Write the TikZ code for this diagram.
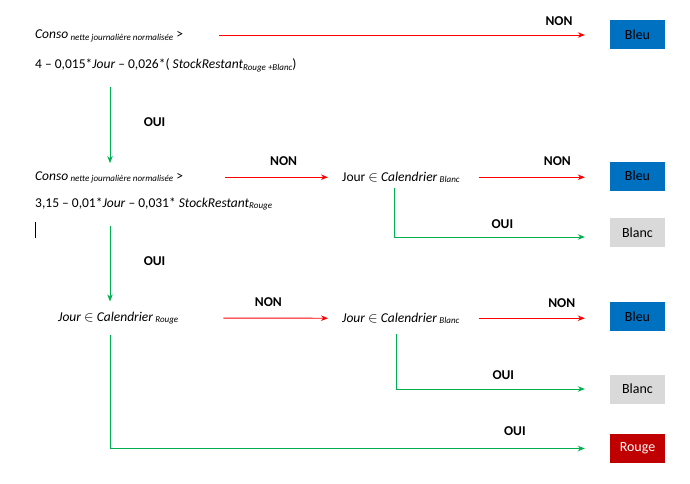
\documentclass[tikz,border=0pt]{standalone}
\usepackage{fontspec}
\setmainfont{Carlito}
\usepackage{tikz}
\usetikzlibrary{calc, arrows.meta}
\tikzset{>={Stealth[length=7pt, width=5.5pt]}}
\definecolor{bleu}{RGB}{0,112,192}
\definecolor{blanc}{RGB}{217,217,217}
\definecolor{rouge}{RGB}{192,0,0}
\definecolor{vert}{RGB}{0,176,80}
\newcommand{\petit}[1]{\raisebox{-1.8pt}{\fontsize{9}{10}\selectfont\itshape #1}}
\tikzset{
    txt/.style={anchor=base west, inner sep=0pt, font=\fontsize{13.5}{16}\selectfont},
    non/.style={->, red, line width=0.9pt},
    oui/.style={->, vert, line width=0.9pt},
    lbl/.style={font=\fontsize{13.5}{16}\selectfont\bfseries, text=black},
    res/.style={minimum width=55pt, minimum height=29pt, inner sep=0pt, font=\fontsize{14}{16}\selectfont}
}

\begin{document}
\begin{tikzpicture}[x=1pt, y=-1pt]
    \useasboundingbox (0,0) rectangle (690,484);
    \coordinate (colA) at (110,0);
    \node[txt] (c1a) at (35,39) {\textit{Conso}\,\petit{nette journalière normalisée} >};
    \node[txt] (c1b) at (35,69) {4 -- 0,015*\textit{Jour} -- 0,026*( \textit{StockRestant}\petit{Rouge +Blanc})};
    \node[txt] (c2a) at (35,180) {\textit{Conso}\,\petit{nette journalière normalisée} >};
    \node[txt] (c2b) at (35,207) {3,15 -- 0,01*\textit{Jour} -- 0,031* \textit{StockRestant}\petit{Rouge}};
    \node[txt] (jB) at (342,181) {Jour $\in$ \textit{Calendrier}\,\petit{Blanc}};
    \node[txt] (jR) at (58,321) {\textit{Jour} $\in$ \textit{Calendrier}\,\petit{Rouge}};
    \node[txt] (jB2) at (342,322) {\textit{Jour} $\in$ \textit{Calendrier}\,\petit{Blanc}};
    \node[res, fill=bleu] (bleuA) at (637.5,35) {Bleu};
    \node[res, fill=bleu] (bleuB) at (637.5,176) {Bleu};
    \node[res, fill=blanc] (blancA) at (637.5,232.5) {Blanc};
    \node[res, fill=bleu] (bleuC) at (637.5,316.5) {Bleu};
    \node[res, fill=blanc] (blancB) at (637.5,389) {Blanc};
    \node[res, fill=rouge, text=white] (rougeA) at (637.5,448.5) {Rouge};
    \draw[non, shorten >=25pt] ([xshift=36pt]c1a.east |- bleuA.west) -- (bleuA.west)
        node[lbl, pos=0.87, above=6pt] (n1) {NON};
    \draw[oui, shorten <=14pt, shorten >=8pt] (c1b.south -| colA) -- (c2a.north -| colA)
        node[lbl, midway, right=30pt] (o1) {OUI};
    \draw[non, shorten >=14pt] ([xshift=42pt]c2a.east |- jB.west) -- (jB.west)
        node[lbl, midway, above=8pt] (n2) {NON};
    \draw[non, shorten <=19pt, shorten >=25pt] (jB.east) -- (jB.east -| bleuB.west)
        node[lbl, pos=0.65, above=8pt] (n3) {NON};
    \draw[oui, shorten <=5pt, shorten >=25pt] ([xshift=-6pt]jB.south) |- ([yshift=-4.5pt]blancA.west)
        node[lbl, pos=0.75, above=5pt] (o2) {OUI};
    \draw[oui, shorten <=15pt, shorten >=10pt] (c2b.south -| colA) -- (jR.north -| colA)
        node[lbl, midway, right=30pt] (o3) {OUI};
    \draw[non, shorten <=45pt, shorten >=14pt] (jR.east) -- (jB2.west)
        node[lbl, pos=0.55, above=8pt] (n4) {NON};
    \draw[non, shorten <=19pt, shorten >=25pt] (jB2.east) -- (jB2.east -| bleuC.west)
        node[lbl, pos=0.68, above=7pt] (n5) {NON};
    \draw[oui, shorten <=10pt, shorten >=25pt] ([xshift=-4pt]jB2.south) |- (blancB.west)
        node[lbl, pos=0.75, above=6pt] (o4) {OUI};
    \draw[oui, shorten <=10pt, shorten >=25pt] (jR.south -| colA) |- (rougeA.west)
        node[lbl, pos=0.905, above=9pt] (o5) {OUI};
    \draw[thin] (35,222) -- (35,238);
\end{tikzpicture}
\end{document}
